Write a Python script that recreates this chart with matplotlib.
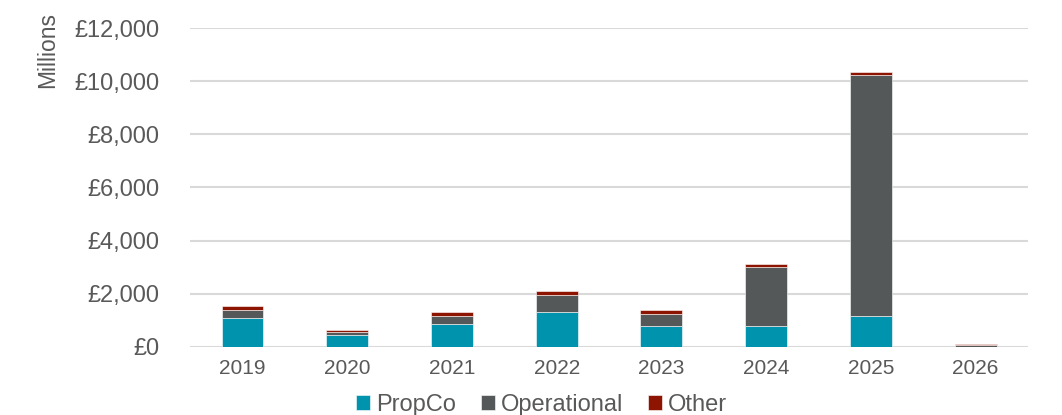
import matplotlib
matplotlib.use("Agg")
import matplotlib.pyplot as plt
import numpy as np
from matplotlib.ticker import FuncFormatter

plt.rcParams['font.family'] = ['Liberation Sans', 'DejaVu Sans']

years = ["2019", "2020", "2021", "2022", "2023", "2024", "2025", "2026"]
propco = [1080, 440, 875, 1315, 805, 770, 1155, 0]
operational = [300, 135, 280, 640, 450, 2240, 9060, 60]
other = [160, 65, 160, 160, 125, 100, 115, 45]

c_propco = "#0093AE"
c_oper = "#555859"
c_other = "#8C1400"
txt = "#595959"

fig = plt.figure(figsize=(10.62, 4.15), dpi=100)
ax = fig.add_axes([0.179, 0.164, 0.789, 0.7685])

x = np.arange(len(years))
w = 0.4
edge = dict(edgecolor="#ffffff", linewidth=0.4)
b1 = ax.bar(x, propco, w, color=c_propco, label="PropCo", **edge)
b2 = ax.bar(x, operational, w, bottom=propco, color=c_oper, label="Operational", **edge)
base2 = np.array(propco) + np.array(operational)
b3 = ax.bar(x, other, w, bottom=base2, color=c_other, label="Other", **edge)

ax.set_xlim(-0.5, 7.5)
ax.set_ylim(0, 12000)
ax.set_yticks(np.arange(0, 12001, 2000))
ax.yaxis.set_major_formatter(FuncFormatter(lambda v, p: "£{:,.0f}".format(v)))
ax.set_xticks(x)
ax.set_xticklabels(years)

ax.grid(axis="y", color="#d9d9d9", linewidth=1.5)
ax.set_axisbelow(True)
for s in ax.spines.values():
    s.set_visible(False)
ax.tick_params(axis="both", length=0, colors=txt)
ax.tick_params(axis="y", labelsize=17, pad=22)
ax.tick_params(axis="x", labelsize=15, pad=9)

fig.text(0.045, 0.88, "Millions", rotation=90, ha="center", va="center",
         fontsize=16.5, color=txt)

leg = fig.legend(handles=[b1, b2, b3], loc="center", bbox_to_anchor=(0.51, 0.025),
                 ncol=3, frameon=False, fontsize=17, handlelength=0.6,
                 handleheight=0.6, handletextpad=0.25, columnspacing=1.05,
                 borderpad=0)
for t in leg.get_texts():
    t.set_color(txt)

fig.savefig("out.png", dpi=100)
